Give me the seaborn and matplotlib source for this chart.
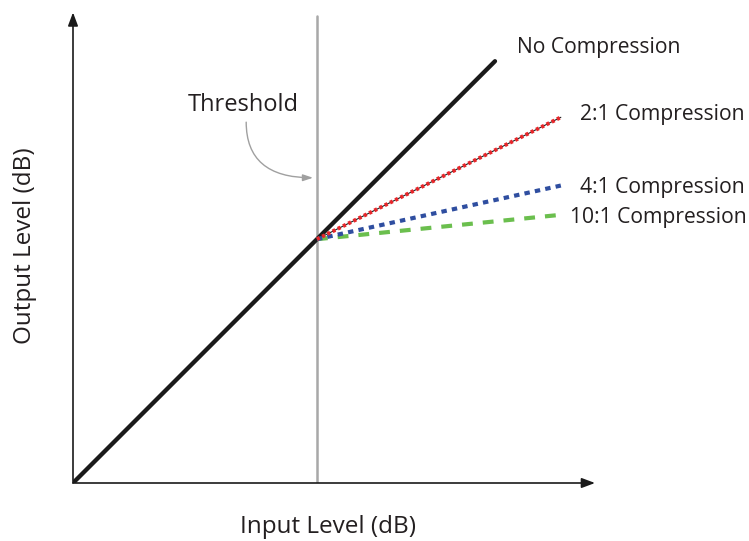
import matplotlib
matplotlib.use("Agg")
import matplotlib.pyplot as plt
import seaborn as sns
import pandas as pd

sns.set_style("white")
plt.rcParams['font.family'] = ['Open Sans', 'DejaVu Sans']

# Data (dB)
threshold = 50
no_comp_in = [0, 86.5]
no_comp_out = [0, 86.5]
comp_in = [50, 100]
out_2to1 = [50, 75]
out_4to1 = [50, 61]
out_10to1 = [50, 55]
labels = ["No Compression", "2:1 Compression", "4:1 Compression", "10:1 Compression"]

fig = plt.figure(figsize=(7.49, 5.41), dpi=100)
ax = fig.add_axes([73/749, 58/541, 522/749, 473/541])
ax.set_xlim(0, 107)
ax.set_ylim(0, 97)
for s in ax.spines.values():
    s.set_visible(False)
ax.set_xticks([])
ax.set_yticks([])

# threshold line
ax.plot([threshold, threshold], [0, 95.8], color="#a8a8a8", lw=1.8, zorder=1)

df0 = pd.DataFrame({"x": no_comp_in, "y": no_comp_out})
sns.lineplot(data=df0, x="x", y="y", ax=ax, color="#1a1a1a", lw=3.1, zorder=3)

df2 = pd.DataFrame({"x": comp_in, "y": out_2to1})
sns.lineplot(data=df2, x="x", y="y", ax=ax, color="#222222", lw=0.8, zorder=4)
sns.lineplot(data=df2, x="x", y="y", ax=ax, color="#e8262a", lw=2.8, zorder=5)
ax.lines[-1].set_dashes([0.8, 0.7])

df4 = pd.DataFrame({"x": comp_in, "y": out_4to1})
sns.lineplot(data=df4, x="x", y="y", ax=ax, color="#2f4ea0", lw=3.0, zorder=4)
ax.lines[-1].set_dashes([1.3, 1.25])

df10 = pd.DataFrame({"x": comp_in, "y": out_10to1})
sns.lineplot(data=df10, x="x", y="y", ax=ax, color="#6bbf4e", lw=3.0, zorder=3)
ax.lines[-1].set_dashes([2.6, 2.4])

ax.set_xlabel("")
ax.set_ylabel("")

# axis arrows
ax.annotate("", xy=(107, 0), xytext=(0, 0), xycoords="data",
            arrowprops=dict(arrowstyle="-|>,head_length=0.8,head_width=0.3", color="#1a1a1a", lw=1.2,
                            shrinkA=0, shrinkB=0), annotation_clip=False)
ax.annotate("", xy=(0, 96.5), xytext=(0, 0), xycoords="data",
            arrowprops=dict(arrowstyle="-|>,head_length=0.8,head_width=0.3", color="#1a1a1a", lw=1.2,
                            shrinkA=0, shrinkB=0), annotation_clip=False)

# line labels
fs = 15.2
ax.text(91, 89.4, labels[0], fontsize=fs, color="#231f20", va="center", ha="left")
ax.text(104.0, 75.6, labels[1], fontsize=fs, color="#231f20", va="center", ha="left")
ax.text(104.0, 60.6, labels[2], fontsize=fs, color="#231f20", va="center", ha="left")
ax.text(101.8, 54.5, labels[3], fontsize=fs, color="#231f20", va="center", ha="left")

# threshold annotation
ax.text(35, 77.5, "Threshold", fontsize=17, color="#231f20", va="center", ha="center")
ax.annotate("", xy=(49.2, 62.6), xytext=(35.5, 74.0),
            arrowprops=dict(arrowstyle="-|>,head_length=0.6,head_width=0.2", color="#a0a0a0", lw=1.0,
                            connectionstyle="angle3,angleA=90,angleB=0", shrinkA=0, shrinkB=0))

fig.text(328/749, 1 - 527/541, "Input Level (dB)", fontsize=17.5, color="#231f20", ha="center", va="center")
fig.text(25/749, 1 - 246/541, "Output Level (dB)", fontsize=17.5, color="#231f20", ha="center", va="center", rotation=90)

fig.savefig("out.png", dpi=100)
